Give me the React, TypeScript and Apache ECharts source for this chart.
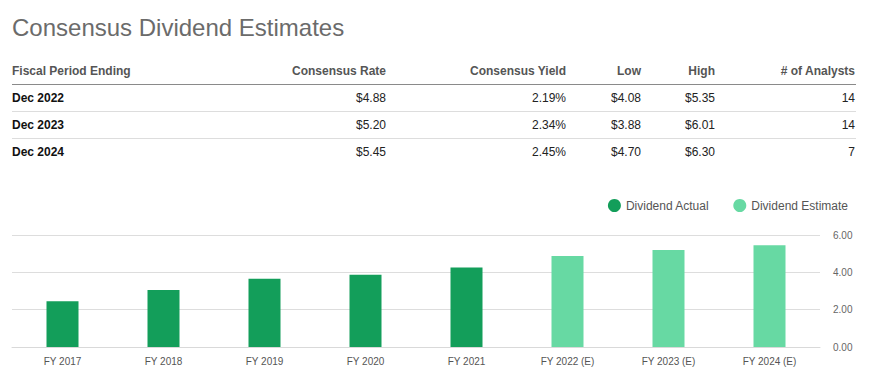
import React, { useEffect, useRef } from "react";
import * as echarts from "echarts";

const title = "Consensus Dividend Estimates";
const tableHeaders = ["Fiscal Period Ending", "Consensus Rate", "Consensus Yield", "Low", "High", "# of Analysts"];
const periods = ["Dec 2022", "Dec 2023", "Dec 2024"];
const consensusRate = ["$4.88", "$5.20", "$5.45"];
const consensusYield = ["2.19%", "2.34%", "2.45%"];
const lowValues = ["$4.08", "$3.88", "$4.70"];
const highValues = ["$5.35", "$6.01", "$6.30"];
const analysts = ["14", "14", "7"];

const categories = ["FY 2017", "FY 2018", "FY 2019", "FY 2020", "FY 2021", "FY 2022 (E)", "FY 2023 (E)", "FY 2024 (E)"];
const actualValues = [2.45, 3.06, 3.65, 3.87, 4.26, null, null, null];
const estimateValues = [null, null, null, null, null, 4.88, 5.2, 5.45];
const yTicks = { min: 0, max: 6, interval: 2 };

const FONT = "'Liberation Sans', Arial, Helvetica, sans-serif";

export default function App() {
  const ref = useRef<HTMLDivElement>(null);
  useEffect(() => {
    if (!ref.current) return;
    const chart = echarts.init(ref.current, undefined, { renderer: "svg" });

    const colRight = [0, 386, 566, 641, 715, 855];
    const rowY = [98, 125, 152];
    const graphics: any[] = [];
    graphics.push({
      type: "text",
      left: 12,
      top: 15,
      style: { text: title, font: `24px ${FONT}`, fill: "#6b6b6b" },
    });
    tableHeaders.forEach((h, i) => {
      graphics.push({
        type: "text",
        x: i === 0 ? 12 : colRight[i],
        y: 71,
        style: {
          text: h,
          font: `bold 12px ${FONT}`,
          fill: "#555555",
          textAlign: i === 0 ? "left" : "right",
          textVerticalAlign: "middle",
        },
      });
    });
    graphics.push({ type: "line", shape: { x1: 12, y1: 84.5, x2: 856, y2: 84.5 }, style: { stroke: "#8a8a8a", lineWidth: 1 } });
    [111.5, 138.5].forEach((y) =>
      graphics.push({ type: "line", shape: { x1: 12, y1: y, x2: 856, y2: y }, style: { stroke: "#dddddd", lineWidth: 1 } })
    );
    const cols = [periods, consensusRate, consensusYield, lowValues, highValues, analysts];
    cols.forEach((col, i) => {
      col.forEach((v, r) => {
        graphics.push({
          type: "text",
          x: i === 0 ? 12 : colRight[i],
          y: rowY[r],
          style: {
            text: v,
            font: `${i === 0 ? "bold " : ""}12px ${FONT}`,
            fill: i === 0 ? "#111111" : "#222222",
            textAlign: i === 0 ? "left" : "right",
            textVerticalAlign: "middle",
          },
        });
      });
    });

    chart.setOption({
      animation: false,
      textStyle: { fontFamily: FONT },
      graphic: graphics,
      legend: {
        right: 26,
        top: 194,
        icon: "circle",
        itemWidth: 13,
        itemHeight: 13,
        itemGap: 24,
        textStyle: { fontSize: 12, color: "#555555", fontFamily: FONT },
        data: ["Dividend Actual", "Dividend Estimate"],
      },
      grid: { left: 12, right: 59, top: 235, bottom: 34, containLabel: false },
      xAxis: {
        type: "category",
        data: categories,
        axisLine: { lineStyle: { color: "#d9d9d9" } },
        axisTick: { show: false },
        axisLabel: { fontSize: 10, color: "#555555", margin: 9, fontFamily: FONT },
      },
      yAxis: {
        type: "value",
        position: "right",
        min: yTicks.min,
        max: yTicks.max,
        interval: yTicks.interval,
        axisLine: { show: false },
        axisTick: { show: false },
        axisLabel: { fontSize: 10, color: "#666666", margin: 13, formatter: (v: number) => v.toFixed(2), fontFamily: FONT },
        splitLine: { lineStyle: { color: "#dddddd" } },
      },
      series: [
        {
          name: "Dividend Actual",
          type: "bar",
          stack: "d",
          barWidth: 32,
          data: actualValues,
          itemStyle: { color: "#139e5a" },
        },
        {
          name: "Dividend Estimate",
          type: "bar",
          stack: "d",
          barWidth: 32,
          data: estimateValues,
          itemStyle: { color: "#67d9a3" },
        },
      ],
    });
    return () => chart.dispose();
  }, []);
  return <div ref={ref} style={{ position: "fixed", left: 0, top: 0, width: 879, height: 381, background: "#fff" }} />;
}
